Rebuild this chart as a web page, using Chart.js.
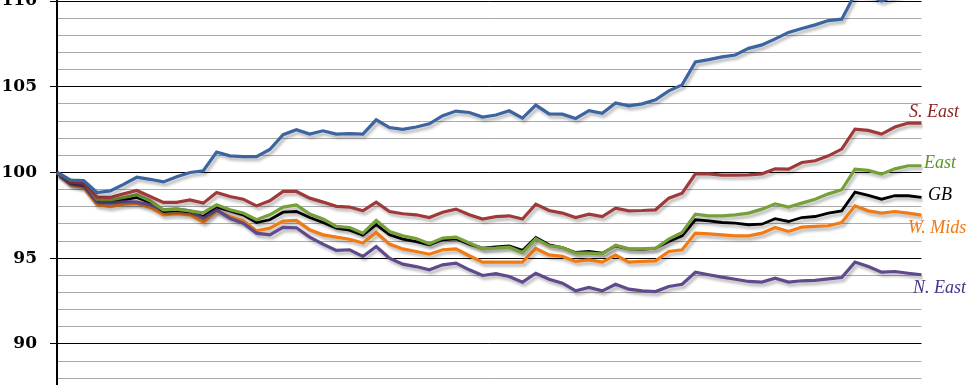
<!DOCTYPE html>
<html>
<head>
<meta charset="utf-8">
<script src="https://cdn.jsdelivr.net/npm/chart.js@4.4.1/dist/chart.umd.min.js"></script>
<style>
  html, body { margin: 0; padding: 0; background: #fff; }
  #wrap { width: 967px; height: 385px; position: relative; }
</style>
</head>
<body>
<div id="wrap"><canvas id="chart"></canvas></div>
<script>
// index values (start = 100)
const blue = [100, 99.55, 99.52, 98.83, 98.92, 99.3, 99.72, 99.6, 99.45, 99.75,
  100.0, 100.1, 101.19, 100.97, 100.92, 100.92, 101.34, 102.2, 102.49, 102.24,
  102.43, 102.24, 102.27, 102.24, 103.07, 102.62, 102.51, 102.65, 102.84, 103.31,
  103.58, 103.5, 103.23, 103.35, 103.6, 103.17, 103.93, 103.42, 103.4, 103.15,
  103.6, 103.45, 104.05, 103.89, 104.0, 104.24, 104.76, 105.11, 106.45, 106.58,
  106.74, 106.85, 107.24, 107.44, 107.79, 108.17, 108.4, 108.61, 108.86, 108.94,
  110.4, 110.35, 110.0, 110.3, 110.5, 110.5];

const southEast = [100, 99.45, 99.38, 98.56, 98.54, 98.75, 98.95, 98.6, 98.25, 98.25,
  98.4, 98.21, 98.83, 98.6, 98.44, 98.05, 98.35, 98.89, 98.89, 98.5,
  98.27, 98.02, 97.98, 97.76, 98.27, 97.72, 97.59, 97.53, 97.37, 97.68,
  97.86, 97.53, 97.28, 97.42, 97.47, 97.28, 98.15, 97.78, 97.63, 97.37,
  97.57, 97.43, 97.92, 97.76, 97.78, 97.82, 98.5, 98.79, 99.92, 99.92,
  99.84, 99.84, 99.86, 99.92, 100.21, 100.19, 100.58, 100.68, 100.97, 101.36,
  102.53, 102.45, 102.24, 102.65, 102.88, 102.88];

const east = [100, 99.55, 99.44, 98.44, 98.4, 98.54, 98.7, 98.35, 97.82, 97.86,
  97.76, 97.65, 98.11, 97.82, 97.63, 97.24, 97.53, 97.98, 98.11, 97.57,
  97.28, 96.85, 96.79, 96.46, 97.2, 96.56, 96.3, 96.15, 95.84, 96.17,
  96.23, 95.88, 95.56, 95.59, 95.64, 95.33, 96.13, 95.72, 95.62, 95.29,
  95.29, 95.25, 95.76, 95.54, 95.54, 95.58, 96.11, 96.5, 97.57, 97.47,
  97.47, 97.53, 97.63, 97.86, 98.17, 97.98, 98.21, 98.44, 98.75, 98.99,
  100.19, 100.12, 99.9, 100.21, 100.39, 100.39];

const northEast = [100, 99.35, 99.22, 98.27, 98.21, 98.29, 98.27, 98.11, 97.82, 97.86,
  97.76, 97.32, 97.82, 97.33, 97.04, 96.46, 96.36, 96.79, 96.77, 96.23,
  95.82, 95.45, 95.49, 95.1, 95.68, 95.0, 94.65, 94.51, 94.32, 94.61,
  94.71, 94.32, 93.99, 94.1, 93.93, 93.6, 94.12, 93.77, 93.54, 93.09,
  93.29, 93.09, 93.48, 93.19, 93.09, 93.05, 93.35, 93.48, 94.18, 94.03,
  93.89, 93.77, 93.64, 93.6, 93.83, 93.6, 93.68, 93.7, 93.79, 93.87,
  94.77, 94.51, 94.18, 94.22, 94.12, 94.03];

const westMids = [100, 99.3, 99.12, 98.13, 98.0, 98.15, 98.21, 97.96, 97.53, 97.59,
  97.53, 97.1, 97.76, 97.43, 97.18, 96.6, 96.75, 97.16, 97.2, 96.65,
  96.36, 96.23, 96.1, 95.88, 96.5, 95.82, 95.54, 95.39, 95.23, 95.49,
  95.54, 95.14, 94.77, 94.77, 94.77, 94.77, 95.56, 95.19, 95.1, 94.81,
  94.9, 94.77, 95.18, 94.77, 94.81, 94.84, 95.39, 95.49, 96.46, 96.42,
  96.36, 96.3, 96.3, 96.46, 96.79, 96.56, 96.81, 96.85, 96.89, 97.08,
  98.05, 97.76, 97.63, 97.72, 97.63, 97.51];

const gb = [100, 99.4, 99.28, 98.37, 98.31, 98.4, 98.54, 98.25, 97.72, 97.78,
  97.68, 97.43, 97.98, 97.76, 97.53, 97.08, 97.24, 97.68, 97.72, 97.37,
  97.08, 96.75, 96.63, 96.34, 96.95, 96.36, 96.11, 95.97, 95.78, 96.07,
  96.13, 95.82, 95.58, 95.66, 95.72, 95.45, 96.21, 95.78, 95.62, 95.33,
  95.39, 95.29, 95.72, 95.54, 95.52, 95.58, 95.97, 96.3, 97.24, 97.18,
  97.08, 97.04, 96.95, 96.98, 97.3, 97.14, 97.37, 97.43, 97.63, 97.76,
  98.85, 98.66, 98.44, 98.64, 98.64, 98.54];

const seriesNames = ['', 'S. East', 'East', 'N. East', 'W. Mids', 'GB'];
const yTicks = [88, 89, 90, 91, 92, 93, 94, 95, 96, 97, 98, 99, 100,
  101, 102, 103, 104, 105, 106, 107, 108, 109, 110];
const periods = blue.map((v, i) => String(i + 1));

const colours = ['#3b64a0', '#a03a3a', '#77a03a', '#5f4a8c', '#f07a14', '#000000'];
const labelColours = ['#3b64a0', '#8c2323', '#5a9620', '#46328c', '#f07814', '#000000'];
// where the end labels sit: left x, and shift from the last point (px)
const labelPlace = [null, [909, -11], [924, -2], [913, 13.5], [908, 13.5], [928, -2]];

// soft grey shadow under every line
const shadowPlugin = {
  id: 'shadow',
  beforeDatasetDraw(chart) {
    const ctx = chart.ctx;
    ctx.save();
    ctx.shadowColor = 'rgba(0,0,0,0.28)';
    ctx.shadowBlur = 3;
    ctx.shadowOffsetX = 2;
    ctx.shadowOffsetY = 3;
  },
  afterDatasetDraw(chart) {
    chart.ctx.restore();
  }
};

// series names at the right end of the lines
const endLabels = {
  id: 'endLabels',
  afterDatasetsDraw(chart) {
    const ctx = chart.ctx;
    const y = chart.scales.y;
    ctx.save();
    ctx.font = 'italic 18px "Liberation Serif", serif';
    ctx.textAlign = 'left';
    ctx.textBaseline = 'middle';
    chart.data.datasets.forEach((ds, i) => {
      const place = labelPlace[i];
      if (!place || !seriesNames[i]) return;
      const last = ds.data[ds.data.length - 1];
      ctx.fillStyle = labelColours[i];
      ctx.fillText(seriesNames[i], place[0], y.getPixelForValue(last) + place[1]);
    });
    ctx.restore();
  }
};

function makeSet(name, data, i) {
  return {
    label: name || 'London',
    data: data,
    borderColor: colours[i],
    backgroundColor: colours[i],
    borderWidth: i === 5 ? 2.8 : 3.2,
    pointRadius: 0,
    tension: 0,
    fill: false
  };
}

new Chart(document.getElementById('chart').getContext('2d'), {
  type: 'line',
  data: {
    labels: periods,
    datasets: [
      makeSet(seriesNames[0], blue, 0),
      makeSet(seriesNames[1], southEast, 1),
      makeSet(seriesNames[2], east, 2),
      makeSet(seriesNames[3], northEast, 3),
      makeSet(seriesNames[4], westMids, 4),
      makeSet(seriesNames[5], gb, 5)
    ]
  },
  options: {
    responsive: true,
    maintainAspectRatio: false,
    animation: false,
    layout: { padding: { left: 0, right: 45.5, top: 0, bottom: 0 } },
    plugins: { legend: { display: false }, tooltip: { enabled: false } },
    scales: {
      x: { type: 'category', offset: false, display: false },
      y: {
        min: 87.6,
        max: 110.06,
        afterBuildTicks(scale) {
          scale.ticks = yTicks.map(v => ({ value: v }));
        },
        afterFit(scale) {
          scale.width = 57;
          scale.paddingTop = 0;
          scale.paddingBottom = 0;
        },
        border: { display: true, color: '#000', width: 2 },
        grid: {
          color: ctx => (ctx.tick && ctx.tick.value % 5 === 0) ? '#000' : '#aaaaaa',
          lineWidth: 1,
          tickLength: 7,
          tickColor: ctx => (ctx.tick && ctx.tick.value % 5 === 0) ? '#000' : 'rgba(0,0,0,0)'
        },
        ticks: {
          autoSkip: false,
          padding: 13,
          color: '#000',
          font: { family: '"DejaVu Serif", serif', size: 17, weight: 'bold' },
          callback: v => (v % 5 === 0 ? String(v) : '')
        }
      }
    }
  },
  plugins: [shadowPlugin, endLabels]
});
</script>
</body>
</html>
